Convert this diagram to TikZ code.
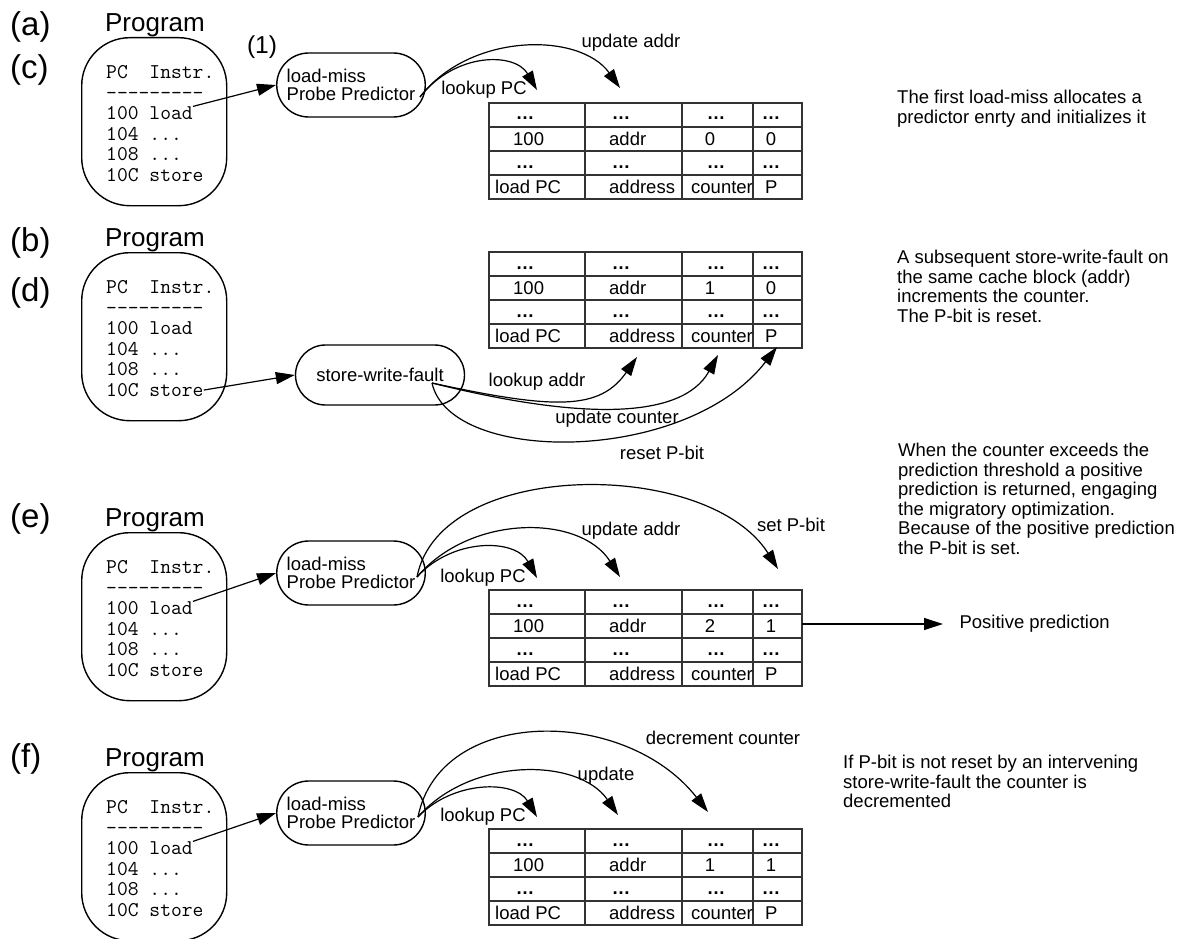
\documentclass[tikz,border=0pt]{standalone}
\usepackage{fontspec}
\setmainfont{Liberation Sans}
\usetikzlibrary{arrows.meta}

\begin{document}
\begin{tikzpicture}[x=1pt, y=-1pt, >={Triangle[length=19pt,width=12pt]},
    every node/.style={font=\fontsize{18.5}{20}\selectfont},
    progbox/.style={draw, line width=1.4pt, rounded corners=48pt, minimum width=145pt, minimum height=168pt, anchor=north west},
    code/.style={font=\ttfamily\fontsize{21}{21}\selectfont, anchor=base west, inner sep=0pt},
    probe/.style={draw, line width=1.4pt, rounded corners=32pt, minimum width=148pt, minimum height=64pt, align=left, inner xsep=10pt, inner ysep=2pt, font=\fontsize{18.5}{18}\selectfont},
    flow/.style={->, line width=1.2pt},
    tabline/.style={line width=1.8pt, black!80},
    cell/.style={anchor=base, inner sep=0pt},
    note/.style={anchor=north west, align=left, inner sep=0pt, font=\fontsize{18.5}{19.5}\selectfont},
    tag/.style={anchor=west, inner sep=0pt, font=\fontsize{33}{33}\selectfont}]

    \useasboundingbox (0,0) rectangle (1186,939);

    % program listings
    \foreach \t/\n in {37/a, 252/b, 532/e, 772/f} {
        \node[progbox] (prog-\n) at (81,\t) {};
        \node[font=\fontsize{26}{26}\selectfont] (title-\n) at (155,{\t-12}) {Program};
        \foreach \s [count=\i from 0] in {PC~~Instr., ---------, 100 load, 104 .{}.{}., 108 .{}.{}., 10C store}
            \node[code] (code-\n-\i) at (106,{\t+41.5+20.6*\i}) {\s};
    }
    \node[tag] (tag-a) at (10,27) {(a)};
    \node[tag] (tag-c) at (10,70) {(c)};
    \node[tag] (tag-b) at (10,243) {(b)};
    \node[tag] (tag-d) at (10,293) {(d)};
    \node[tag] (tag-e) at (10,519) {(e)};
    \node[tag] (tag-f) at (10,759) {(f)};

    % predictor tables
    \foreach \t/\n/\v/\p in {103/a/0/0, 252/b/1/0, 590/e/2/1, 829/f/1/1} {
        \draw[tabline] (489,\t) rectangle (802,{\t+96});
        \foreach \r in {24,48,72}
            \draw[tabline] (489,{\t+\r}) -- (802,{\t+\r});
        \foreach \k in {585,682,753}
            \draw[tabline] (\k,\t) -- (\k,{\t+96});
        \foreach \r in {17,65}
            \foreach \x in {525,621,716,771}
                \node[cell] (dots-\n-\r-\x) at (\x,{\t+\r}) {\textbf{\ldots}};
        \node[cell, anchor=base west] (pc-val-\n) at (513,{\t+42.5}) {100};
        \node[cell, anchor=base west] (addr-val-\n) at (609,{\t+42.5}) {addr};
        \node[cell] (cnt-val-\n) at (710,{\t+42.5}) {\v};
        \node[cell] (p-val-\n) at (771,{\t+42.5}) {\p};
        \node[cell, anchor=base west] (pc-head-\n) at (495,{\t+90.5}) {load PC};
        \node[cell, anchor=base west] (addr-head-\n) at (609,{\t+90.5}) {address};
        \node[cell, anchor=base west] (cnt-head-\n) at (691,{\t+90.5}) {counter};
        \node[cell, anchor=base west] (p-head-\n) at (765,{\t+90.5}) {P};
    }

    % (a)/(c): first load-miss
    \node[font=\fontsize{24.5}{24.5}\selectfont] (step-a) at (262,47) {(1)};
    \node[probe] (probe-a) at (351,85) {load-miss\\Probe Predictor};
    \draw[flow] (code-a-2.north east) -- (probe-a.west);
    \coordinate (out-a) at (420,97);
    \coordinate (pc-a) at (537,90);
    \coordinate (addr-a) at (620,88);
    \draw[flow] (out-a) .. controls (455,52) and (515,52) .. (pc-a);
    \draw[flow] (out-a) .. controls (470,32) and (580,32) .. (addr-a);
    \node (lookup-a) at (484,90) {lookup PC};
    \node (update-a) at (631,43) {update addr};
    \node[note] (note-a) at (897,90) {The first load-miss allocates a\\predictor enrty and initializes it};

    % (b)/(d): store-write-fault
    \node[probe, minimum width=169pt, minimum height=60pt, rounded corners=30pt] (fault-b) at (380,375) {store-write-fault};
    \draw[flow] (code-b-5.east) -- (fault-b.west);
    \coordinate (out-b) at (432,383);
    \coordinate (addr-b) at (637,357);
    \coordinate (cnt-b) at (718,355);
    \coordinate (p-b) at (777,347);
    \draw[flow] (out-b) .. controls (556,410) and (600,410) .. (addr-b);
    \draw[flow] (out-b) .. controls (580,420) and (682,420) .. (cnt-b);
    \draw[flow] (out-b) .. controls (450,465) and (686,465) .. (p-b);
    \node (lookup-b) at (537,382) {lookup addr};
    \node (update-b) at (617,419) {update counter};
    \node (reset-b) at (662,453) {reset P-bit};
    \node[note] (note-b) at (897,250) {A subsequent store-write-fault on\\the same cache block (addr)\\increments the counter.\\The P-bit is reset.};

    % (e): positive prediction
    \node[probe] (probe-e) at (351,573) {load-miss\\Probe Predictor};
    \draw[flow] (code-e-2.north east) -- (probe-e.west);
    \coordinate (out-e) at (417,577);
    \coordinate (pc-e) at (537,578);
    \coordinate (addr-e) at (620,577);
    \coordinate (p-e) at (778,569);
    \draw[flow] (out-e) .. controls (452,538) and (515,538) .. (pc-e);
    \draw[flow] (out-e) .. controls (470,514) and (580,514) .. (addr-e);
    \draw[flow] (out-e) .. controls (440,458) and (708,458) .. (p-e);
    \node (lookup-e) at (483,578) {lookup PC};
    \node (update-e) at (631,531) {update addr};
    \node (set-e) at (791,525) {set P-bit};
    \coordinate (row-e) at (802,624);
    \node[anchor=west] (pos-e) at (956,624) {Positive prediction};
    \draw[flow, shorten >=13pt] (row-e) -- (pos-e);
    \node[note] (note-e) at (898,443) {When the counter exceeds the\\prediction threshold a positive\\prediction is returned, engaging\\the migratory optimization.\\Because of the positive prediction\\the P-bit is set.};

    % (f): decrement
    \node[probe] (probe-f) at (351,813) {load-miss\\Probe Predictor};
    \draw[flow] (code-f-2.north east) -- (probe-f.west);
    \coordinate (out-f) at (418,817);
    \coordinate (pc-f) at (537,817);
    \coordinate (addr-f) at (618,815);
    \coordinate (cnt-f) at (708,812);
    \draw[flow] (out-f) .. controls (453,780) and (515,780) .. (pc-f);
    \draw[flow] (out-f) .. controls (470,757) and (578,757) .. (addr-f);
    \draw[flow] (out-f) .. controls (440,706) and (625,706) .. (cnt-f);
    \node (lookup-f) at (483,817) {lookup PC};
    \node (update-f) at (606,776) {update};
    \node (decr-f) at (723,738) {decrement counter};
    \node[note] (note-f) at (843,755) {If P-bit is not reset by an intervening\\store-write-fault the counter is\\decremented};
\end{tikzpicture}
\end{document}
